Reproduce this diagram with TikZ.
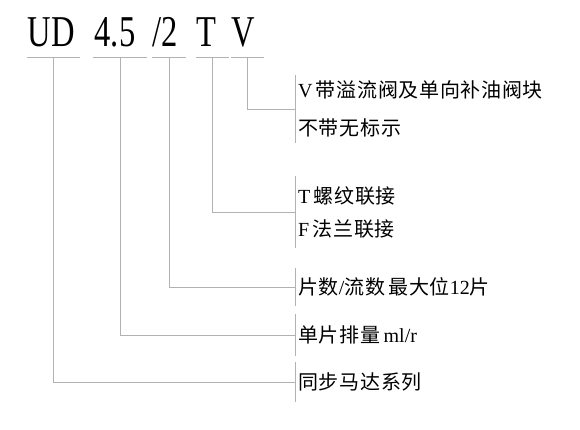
\documentclass[tikz,border=0pt]{standalone}
\usepackage{fontspec}
\setmainfont{Liberation Serif}
\newfontfamily\cjk[LetterSpace=3.5]{Noto Sans CJK SC}
\usepackage{graphicx}
\usepackage{tikz}
\usetikzlibrary{positioning}

\begin{document}
\begin{tikzpicture}[x=1pt, y=-1pt,
	rule/.style={draw=black!30, line width=0.9pt},
	code/.style={font=\fontsize{44}{44}\selectfont, anchor=base, text depth=0pt,
		inner xsep=0pt, inner ysep=10pt},
	caption/.style={anchor=west, align=left, inner xsep=3pt, inner ysep=0pt,
		font=\fontsize{20}{24}\selectfont}]
	\useasboundingbox (0,0) rectangle (580,430);
	% model code
	\node[code, minimum width=53pt] (ud) at (53.5,47) {\scalebox{0.74}[1]{UD}\hspace*{4pt}};
	\node[code, minimum width=54pt] (disp) at (120,47) {\scalebox{0.74}[1]{4.5}\hspace*{10pt}};
	\node[code, minimum width=28pt] (num) at (169,47) {\scalebox{0.74}[1]{/2}\hspace*{8pt}};
	\node[code, minimum width=29pt] (conn) at (212.5,47) {\scalebox{0.74}[1]{T}\hspace*{12pt}};
	\node[code, minimum width=29pt] (valve) at (247.5,47) {\scalebox{0.74}[1]{V}\hspace*{9pt}};
	% meanings
	\node[caption, minimum height=67pt] (capV) at (295,109)
		{V\,{\cjk 带溢流阀及单向补油阀块}\\[14pt]{\cjk 不带无标示}};
	\node[caption, minimum height=72pt] (capT) at (295,212)
		{T\,{\cjk 螺纹联接}\\[9pt]F\,{\cjk 法兰联接}};
	\node[caption, minimum height=38pt] (capN) at (295,287)
		{{\cjk 片数}/{\cjk 流数\,最大位}12{\cjk 片}};
	\node[caption, minimum height=41pt] (capD) at (295,335) {{\cjk 单片排量}\,ml/r};
	\node[caption, minimum height=40pt] (capS) at (295,382) {\cjk 同步马达系列};
	% underlines
	\foreach \n in {ud, disp, num, conn, valve}
		\draw[rule] (\n.south west) -- (\n.south east);
	% brackets
	\foreach \n in {capV, capT, capN, capD, capS}
		\draw[rule] (\n.north west) -- (\n.south west);
	% leaders
	\draw[rule] (valve.south) |- (capV.west);
	\draw[rule] (conn.south) |- (capT.west);
	\draw[rule] (num.south) |- (capN.west);
	\draw[rule] (disp.south) |- (capD.west);
	\draw[rule] (ud.south) |- (capS.west);
\end{tikzpicture}
\end{document}
